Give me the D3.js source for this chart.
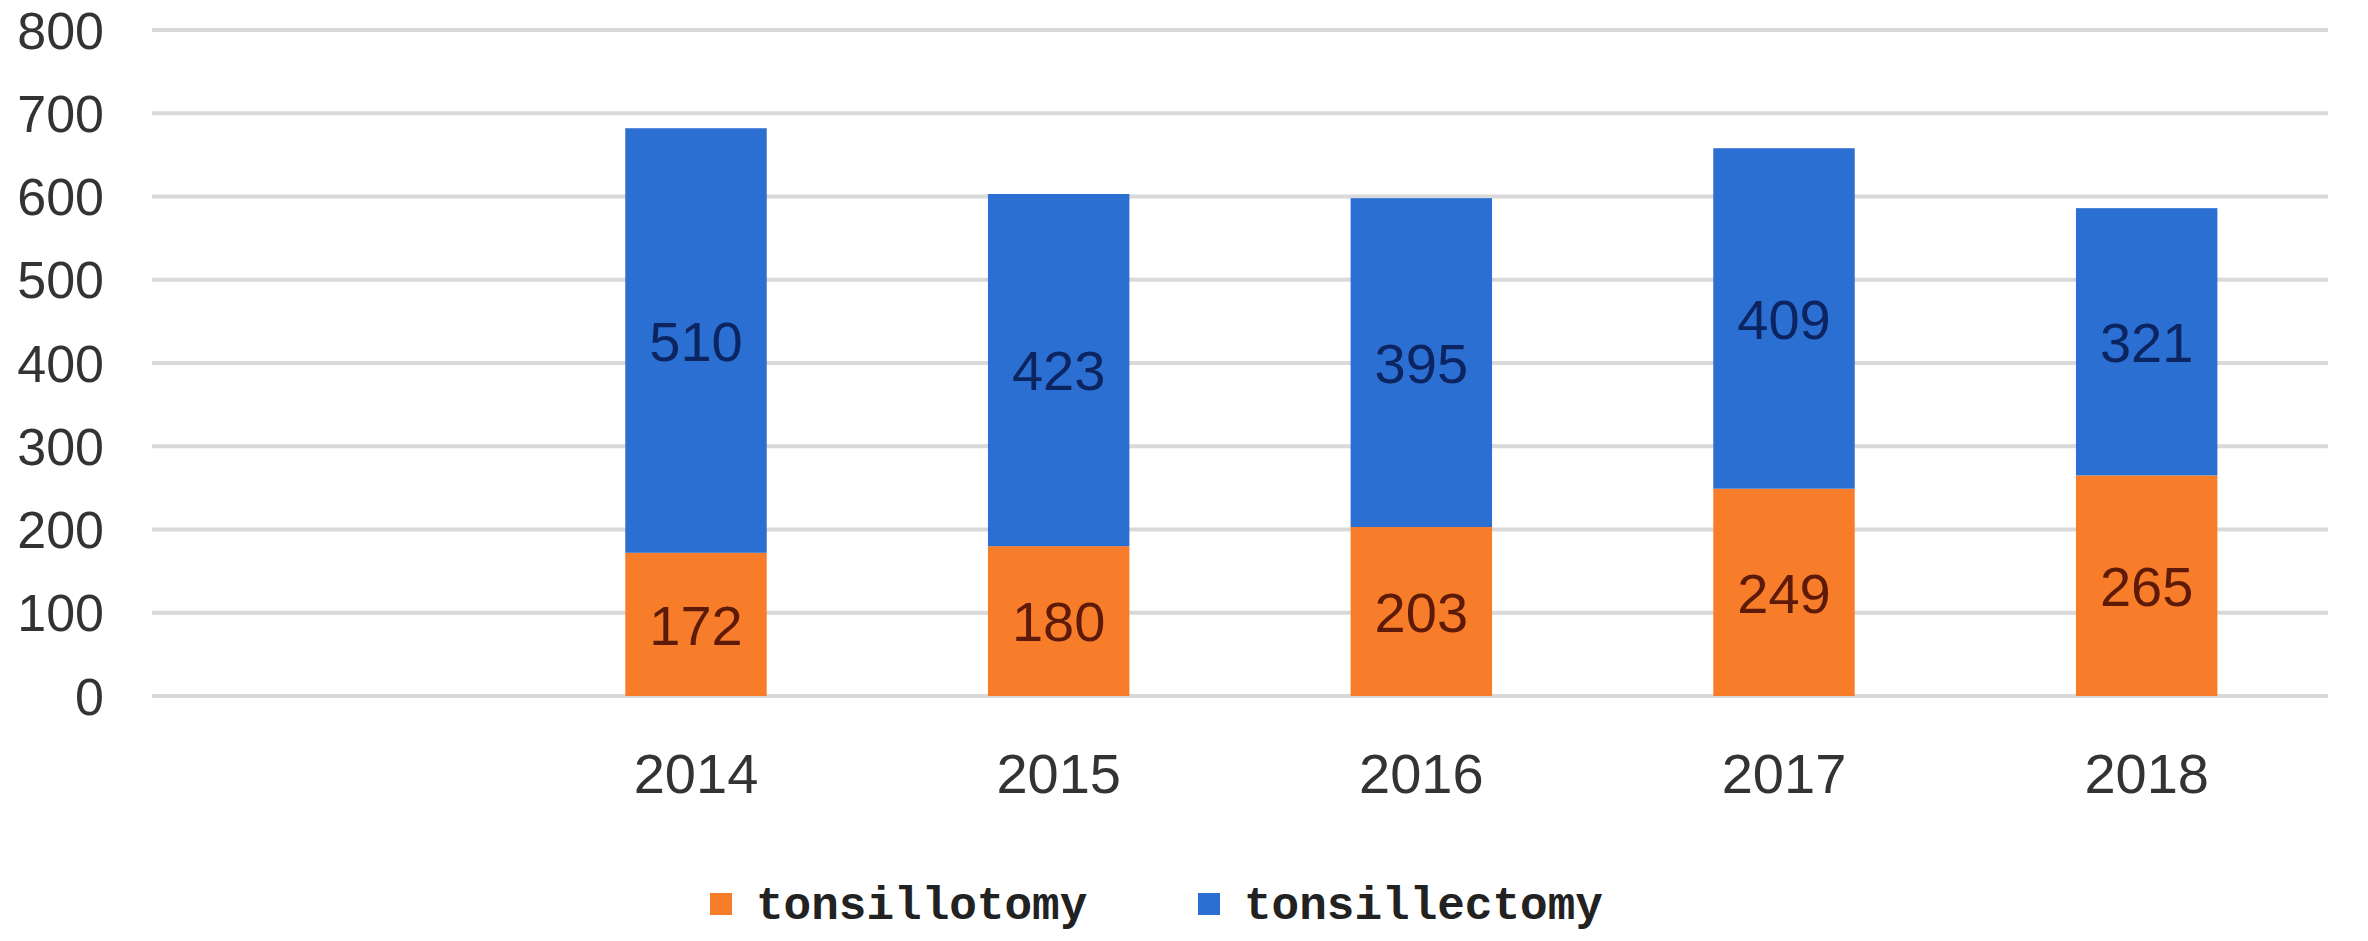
<!DOCTYPE html>
<html>
<head>
<meta charset="utf-8">
<script src="https://cdn.jsdelivr.net/npm/d3@7"></script>
<style>
  body { margin: 0; background: #fff; }
</style>
</head>
<body>
<svg id="chart" width="2368" height="941"></svg>
<script>
const categories = ['', '2014', '2015', '2016', '2017', '2018']
const tonsillotomy = [null, 172, 180, 203, 249, 265]
const tonsillectomy = [null, 510, 423, 395, 409, 321]
const yTicks = [0, 100, 200, 300, 400, 500, 600, 700, 800]

const svg = d3.select('#chart')
const x = d3.scaleBand().domain(categories).range([152, 2328])
const y = d3.scaleLinear().domain([0, 800]).range([696, 30])
const barW = x.bandwidth() * 0.39

// gridlines
svg.selectAll('.grid').data(yTicks).enter().append('line')
  .attr('x1', 152).attr('x2', 2328)
  .attr('y1', d => y(d)).attr('y2', d => y(d))
  .attr('stroke', '#d9d9d9').attr('stroke-width', 4)

// y tick labels
svg.selectAll('.ytick').data(yTicks).enter().append('text')
  .attr('x', 104).attr('y', d => y(d)).attr('dy', '0.36em')
  .attr('text-anchor', 'end')
  .style('font', '52px "Liberation Sans", Arial, sans-serif').attr('fill', '#333')
  .text(d => d)

const rows = categories.map((c, i) => ({c, lo: tonsillotomy[i], hi: tonsillectomy[i]})).filter(d => d.lo != null)

const g = svg.selectAll('.bar').data(rows).enter().append('g')
const cx = d => x(d.c) + x.bandwidth() / 2

g.append('rect').attr('x', d => cx(d) - barW / 2).attr('width', barW)
  .attr('y', d => y(d.lo)).attr('height', d => y(0) - y(d.lo)).attr('fill', '#f87d2a')
g.append('rect').attr('x', d => cx(d) - barW / 2).attr('width', barW)
  .attr('y', d => y(d.lo + d.hi)).attr('height', d => y(d.lo) - y(d.lo + d.hi)).attr('fill', '#2b6fd2')

const lab = '56px "Liberation Sans", Arial, sans-serif'
g.append('text').attr('x', cx).attr('y', d => y(d.lo / 2)).attr('dy', '0.36em')
  .attr('text-anchor', 'middle').style('font', lab).attr('fill', '#5e1a08').text(d => d.lo)
g.append('text').attr('x', cx).attr('y', d => y(d.lo + d.hi / 2)).attr('dy', '0.36em')
  .attr('text-anchor', 'middle').style('font', lab).attr('fill', '#0c2460').text(d => d.hi)

// year labels
g.append('text').attr('x', cx).attr('y', 773).attr('dy', '0.36em')
  .attr('text-anchor', 'middle').style('font', lab).attr('fill', '#333').text(d => d.c)

// legend
const legend = [['tonsillotomy', '#f87d2a', 710], ['tonsillectomy', '#2b6fd2', 1198]]
const lg = svg.selectAll('.leg').data(legend).enter().append('g')
lg.append('rect').attr('x', d => d[2]).attr('y', 893).attr('width', 22).attr('height', 22).attr('fill', d => d[1])
lg.append('text').attr('x', d => d[2] + 46).attr('y', 904).attr('dy', '0.32em')
  .style('font', 'bold 46px "Liberation Mono", "Courier New", monospace').attr('fill', '#222')
  .text(d => d[0])
</script>
</body>
</html>
